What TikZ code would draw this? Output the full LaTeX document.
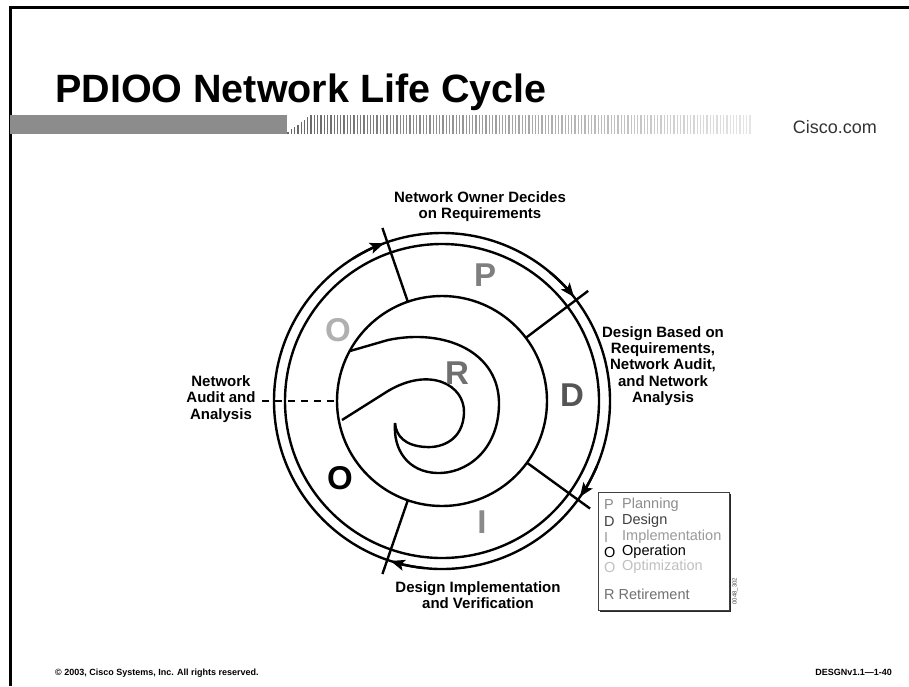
\documentclass[tikz,border=0pt]{standalone}
\usepackage{fontspec}
\setmainfont{Liberation Sans}
\usetikzlibrary{arrows.meta,calc}
\definecolor{gP}{HTML}{7F7F7F}
\definecolor{gD}{HTML}{555555}
\definecolor{gI}{HTML}{8A8A8A}
\definecolor{gOl}{HTML}{B0B0B0}
\definecolor{gR}{HTML}{707070}
\definecolor{lP}{HTML}{8C8C8C}
\definecolor{lD}{HTML}{404040}
\definecolor{lI}{HTML}{9A9A9A}
\definecolor{lO}{HTML}{C0C0C0}
\definecolor{lR}{HTML}{707070}
\begin{document}
\begin{tikzpicture}[x=1pt,y=-1pt,
  ring/.style={line width=2.4pt},
  spoke/.style={line width=2.4pt},
  lbl/.style={font=\fontsize{15}{16.2}\selectfont\bfseries, align=center, inner sep=0pt},
  big/.style={font=\fontsize{33}{33}\selectfont\bfseries, inner sep=0pt},
  arr/.style={line width=2.4pt, -{Stealth[length=14pt,width=11pt,inset=3pt]}},
  leg/.style={font=\fontsize{14.5}{14.5}\selectfont, anchor=west, inner sep=0pt},
  foot/.style={font=\fontsize{9}{9}\selectfont\bfseries, inner sep=0pt}
]
\useasboundingbox (0,0) rectangle (909,686);
\fill[white] (0,0) rectangle (909,686);
% frame
\draw[line width=3pt] (10,686) -- (10,7.5) -- (909,7.5);
% title
\node[anchor=base west, inner sep=0pt, font=\fontsize{39.5}{39.5}\selectfont\bfseries] (title) at (55,102) {PDIOO Network Life Cycle};
% bar
\fill[black!45] (10,115) rectangle (287,134);
\foreach \i in {0,...,140} {
  \pgfmathsetmacro\xx{288+3.3*\i}
  \pgfmathsetmacro\vv{10+50*(1-\i/140)}
  \pgfmathsetmacro\yt{\i<8 ? 134-19*(\i+1)/8 : 115}
  \draw[line width=1.3pt, color=black!\vv] (\xx,\yt) -- (\xx,134);
}
\node[anchor=base east, inner sep=0pt, font=\fontsize{18}{18}\selectfont, text=black!80] (cisco) at (877,133) {Cisco.com};
% circles
\coordinate (c) at (442,401);
\draw[ring] (c) circle[radius=168];
\draw[ring] (c) circle[radius=157];
\draw[ring] (c) circle[radius=105];
% spokes
\foreach \a/\n in {-109/1,-37/2,36/3,109/4} {
  \coordinate (s\n a) at ($(c)+(\a:105)$);
  \coordinate (s\n b) at ($(c)+(\a:183)$);
  \draw[spoke] (s\n a) -- (s\n b);
}
% arrows on the outer ring
\foreach \a in {-109,-37,36,109} {
  \draw[arr] ($(c)+(\a-13:168)$) arc[start angle=\a-13, end angle=\a-1.2, radius=168];
}
% dashed line
\coordinate (dl) at (262,401);
\coordinate (dr) at ($(c)+(180:105)$);
\draw[line width=2pt, dash pattern=on 7pt off 6pt] (dl) -- (dr);
% spiral
\draw[line width=2.4pt, line join=round] (350,351) -- (388,340)
  .. controls (445,328) and (500,352) .. (499,405)
  .. controls (498,452) and (465,474) .. (437,473)
  .. controls (408,472) and (393,450) .. (395,423);
\draw[line width=2.4pt, line join=round] (342,420) -- (388,391)
  .. controls (430,366) and (465,385) .. (464,413)
  .. controls (463,440) and (442,448) .. (426,447)
  .. controls (405,446) and (396,436) .. (395,423);
% big letters
\node[big, text=gP] (P) at (485,275) {P};
\node[big, text=gD] (D) at (572,395) {D};
\node[big, text=gI] (I) at (482,522) {I};
\node[big, text=black] (O1) at (340,478) {O};
\node[big, text=gOl] (O2) at (338,330) {O};
\node[big, text=gR] (R) at (457,373) {R};
% labels
\node[lbl] (owner) at (480,207) {Network Owner Decides\\on Requirements};
\node[lbl] (design) at (663,366) {Design Based on\\Requirements,\\Network Audit,\\and Network\\Analysis};
\node[lbl] (impl) at (478,595) {Design Implementation\\and Verification};
\node[lbl] (audit) at (221,399) {Network\\Audit and\\Analysis};
% legend
\fill[black!85] (600,494) rectangle (730.5,611.5);
\node[draw=black!75, fill=white, line width=0.8pt, minimum width=131pt, minimum height=118pt, anchor=north west, inner sep=0pt] (legend) at (598,492) {};
\node[leg, text=lP] (lp1) at (604,505) {P};
\node[leg, text=lP] (lp2) at (622,505) {Planning};
\node[leg, text=lD] (ld1) at (604,521) {D};
\node[leg, text=lD] (ld2) at (622,521) {Design};
\node[leg, text=lI] (li1) at (604,537) {I};
\node[leg, text=lI] (li2) at (622,537) {Implementation};
\node[leg, text=black] (lo1) at (604,552) {O};
\node[leg, text=black] (lo2) at (622,552) {Operation};
\node[leg, text=lO] (lz1) at (604,567) {O};
\node[leg, text=lO] (lz2) at (622,567) {Optimization};
\node[leg, text=lR] (lr) at (604,594) {R Retirement};
\node[rotate=90, inner sep=0pt, font=\fontsize{6}{6}\selectfont, text=black!70] (fig) at (735,591) {0048\_302};
% footer
\node[foot, anchor=base west] (copy) at (55,675) {© 2003, Cisco Systems, Inc. All rights reserved.};
\node[foot, anchor=base east] (ver) at (892,675) {DESGNv1.1—1-40};
\end{tikzpicture}
\end{document}
